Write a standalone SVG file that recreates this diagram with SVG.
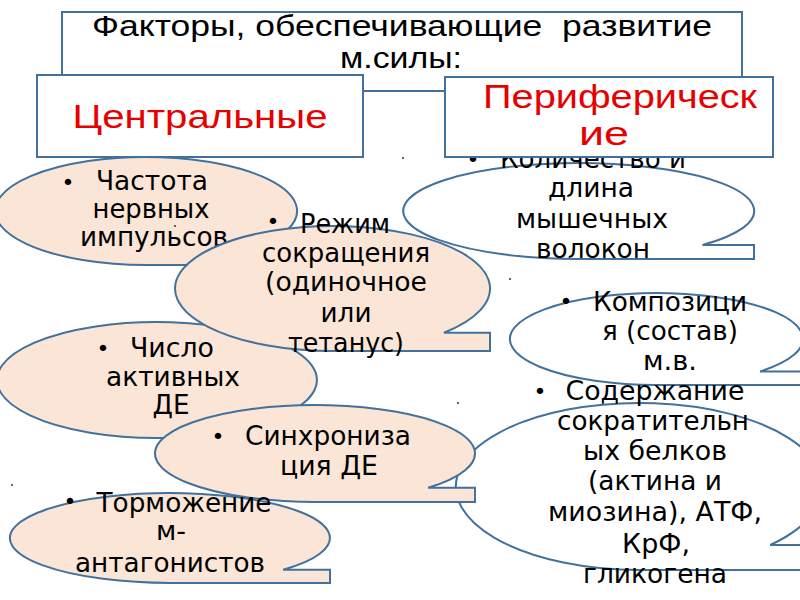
<svg xmlns="http://www.w3.org/2000/svg" width="800" height="600" viewBox="0 0 800 600">
<style>
.c{fill:#FBE5D6;stroke:#41719C;stroke-width:2}
.p{fill:#FFFFFF;stroke:#41719C;stroke-width:2}
.box{fill:#FFFFFF;stroke:#41719C;stroke-width:2}
.t{font-family:"DejaVu Sans",sans-serif;font-size:26px;fill:#000;text-anchor:middle}
.b{font-family:"DejaVu Sans",sans-serif;font-size:22px;fill:#000;text-anchor:middle}
.h{font-family:"Liberation Sans",Arial,sans-serif;font-size:29px;fill:#000;text-anchor:middle}
.r{font-family:"Liberation Sans",Arial,sans-serif;font-size:34px;fill:#E60000;text-anchor:middle}
.dot{fill:#333}
</style>
<rect width="800" height="600" fill="#FFFFFF"/>

<g id="central-1">
<path class="c" d="M146,265 A151,54 0 1 1 252.8,249.2 L297,249.2 L297,265 Z"/>
<text class="b" x="68" y="190">•</text>
<text class="t" x="152" y="190" textLength="112" lengthAdjust="spacingAndGlyphs">Частота</text>
<text class="t" x="151" y="218" textLength="117" lengthAdjust="spacingAndGlyphs">нервных</text>
<text class="t" x="154" y="246" textLength="148" lengthAdjust="spacingAndGlyphs">импульсов</text>
</g>

<g id="central-3">
<path class="c" d="M157,438 A160,58 0 1 1 270.1,421 L317,421 L317,438 Z"/>
<text class="b" x="103" y="356">•</text>
<text class="t" x="172" y="357" textLength="84" lengthAdjust="spacingAndGlyphs">Число</text>
<text class="t" x="173" y="386" textLength="134" lengthAdjust="spacingAndGlyphs">активных</text>
<text class="t" x="171" y="414" textLength="37" lengthAdjust="spacingAndGlyphs">ДЕ</text>
</g>

<g id="central-2">
<path class="c" d="M332.5,351 A157.5,62.5 0 1 1 443.9,332.7 L490,332.7 L490,351 Z"/>
<text class="b" x="273" y="229">•</text>
<text class="t" x="345" y="233" textLength="90" lengthAdjust="spacingAndGlyphs">Режим</text>
<text class="t" x="346" y="262" textLength="168" lengthAdjust="spacingAndGlyphs">сокращения</text>
<text class="t" x="346" y="291" textLength="162" lengthAdjust="spacingAndGlyphs">(одиночное</text>
<text class="t" x="346" y="322" textLength="51" lengthAdjust="spacingAndGlyphs">или</text>
<text class="t" x="346" y="352" textLength="116" lengthAdjust="spacingAndGlyphs">тетанус)</text>
</g>

<g id="peripheral-1">
<path class="p" d="M578.5,259 A175.5,48 0 1 1 702.6,245 L754,245 L754,259 Z"/>
<text class="b" x="473" y="167">•</text>
<text class="t" x="593" y="168" textLength="186" lengthAdjust="spacingAndGlyphs">Количество и</text>
<text class="t" x="591" y="197" textLength="86" lengthAdjust="spacingAndGlyphs">длина</text>
<text class="t" x="592" y="228" textLength="152" lengthAdjust="spacingAndGlyphs">мышечных</text>
<text class="t" x="593" y="258" textLength="114" lengthAdjust="spacingAndGlyphs">волокон</text>
</g>

<g id="peripheral-2">
<path class="p" d="M656.5,385 A146.5,46 0 1 1 760.1,371.5 L803,371.5 L803,385 Z"/>
<text class="b" x="566" y="309">•</text>
<text class="t" x="670" y="311" textLength="154" lengthAdjust="spacingAndGlyphs">Композици</text>
<text class="t" x="670" y="340" textLength="136" lengthAdjust="spacingAndGlyphs">я (состав)</text>
<text class="t" x="670" y="370" textLength="54" lengthAdjust="spacingAndGlyphs">м.в.</text>
</g>

<g id="peripheral-3">
<path class="p" d="M640.5,570 A183.5,83.5 0 1 1 770.3,545 L824,545 L824,570 Z"/>
<text class="b" x="540" y="399">•</text>
<text class="t" x="655" y="400" textLength="179" lengthAdjust="spacingAndGlyphs">Содержание</text>
<text class="t" x="653" y="430" textLength="192" lengthAdjust="spacingAndGlyphs">сократительн</text>
<text class="t" x="655" y="460" textLength="144" lengthAdjust="spacingAndGlyphs">ых белков</text>
<text class="t" x="655" y="490" textLength="134" lengthAdjust="spacingAndGlyphs">(актина и</text>
<text class="t" x="655" y="521" textLength="214" lengthAdjust="spacingAndGlyphs">миозина), АТФ,</text>
<text class="t" x="656" y="553" textLength="68" lengthAdjust="spacingAndGlyphs">КрФ,</text>
<text class="t" x="655" y="583" textLength="144" lengthAdjust="spacingAndGlyphs">гликогена</text>
</g>

<g id="central-4">
<path class="c" d="M315,502 A160,48.5 0 1 1 428.1,487.8 L475,487.8 L475,502 Z"/>
<text class="b" x="218" y="444">•</text>
<text class="t" x="328" y="445" textLength="166" lengthAdjust="spacingAndGlyphs">Синхрониза</text>
<text class="t" x="329" y="475" textLength="98" lengthAdjust="spacingAndGlyphs">ция ДЕ</text>
</g>

<g id="central-5">
<path class="c" d="M170,583 A160,45 0 1 1 283.1,569.8 L330,569.8 L330,583 Z"/>
<text class="b" x="70" y="509">•</text>
<text class="t" x="184" y="512" textLength="175" lengthAdjust="spacingAndGlyphs">Торможение</text>
<text class="t" x="171" y="540" textLength="30" lengthAdjust="spacingAndGlyphs">м-</text>
<text class="t" x="170" y="572" textLength="190" lengthAdjust="spacingAndGlyphs">антагонистов</text>
</g>

<g id="title">
<rect class="box" x="62" y="12" width="680" height="79"/>
<text class="h" x="402" y="36" textLength="620" lengthAdjust="spacingAndGlyphs" xml:space="preserve">Факторы, обеспечивающие  развитие</text>
<text class="h" x="401" y="68" textLength="122" lengthAdjust="spacingAndGlyphs">м.силы:</text>
</g>

<g id="central-header">
<rect class="box" x="37" y="75" width="326" height="82"/>
<text class="r" x="200" y="128" textLength="255" lengthAdjust="spacingAndGlyphs">Центральные</text>
</g>

<g id="peripheral-header">
<rect class="box" x="445" y="77" width="328" height="80"/>
<text class="r" x="620" y="108" textLength="274" lengthAdjust="spacingAndGlyphs">Периферическ</text>
<text class="r" x="604" y="145" textLength="50" lengthAdjust="spacingAndGlyphs">ие</text>
</g>

<g id="dots">
<circle class="dot" cx="175" cy="226" r="1"/>
<circle class="dot" cx="403" cy="158" r="1"/>
<circle class="dot" cx="510" cy="279" r="1"/>
<circle class="dot" cx="12" cy="485" r="1"/>
<circle class="dot" cx="458" cy="403" r="1"/>
</g>

<g id="connectors"></g>
</svg>
